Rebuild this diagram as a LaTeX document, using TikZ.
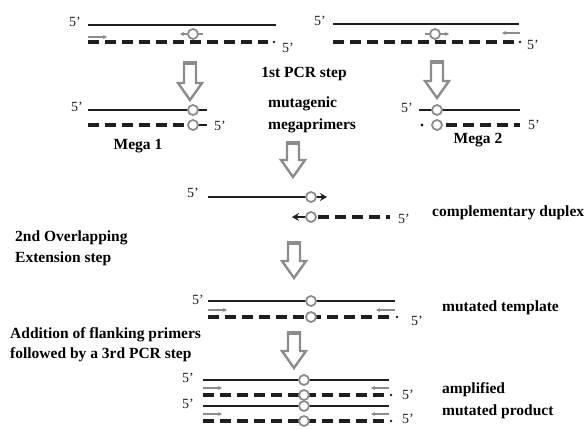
\documentclass[tikz,border=0pt]{standalone}
\usepackage{fontspec}
\setmainfont{Liberation Serif}
\usetikzlibrary{arrows.meta}
\definecolor{strand}{HTML}{1E1E1E}
\definecolor{site}{HTML}{8C8C8C}
\def\hollowarrow(#1,#2,#3){\draw[site,line width=2.4pt,fill=white,line join=miter] (#1-6,#2) -- (#1+6,#2) -- (#1+6,#3-17) -- (#1+12,#3-17) -- (#1,#3) -- (#1-12,#3-17) -- (#1-6,#3-17) -- cycle; \draw[site,line width=3.8pt] (#1-7,#2) -- (#1+7,#2);}
\def\mutsite(#1,#2){\draw[site,line width=1.8pt,fill=white] (#1,#2) circle (5pt);}
\tikzset{
	solidstrand/.style={strand,line width=2.6pt},
	dashstrand/.style={strand,line width=3.2pt,dash pattern=on 11pt off 6pt},
	primer/.style={site,line width=1.5pt,-{Stealth[length=4pt,width=4pt]}},
	lbl/.style={font=\fontsize{15.5}{18}\selectfont\bfseries,inner sep=0pt},
	five/.style={font=\fontsize{14}{16}\selectfont,inner sep=0pt,text=strand}
}

\begin{document}
\begin{tikzpicture}[x=1pt,y=-1pt]
			%%%%% START %%%%%
			\useasboundingbox (0,0) rectangle (588,428);
			
			% first PCR, left
			\node[five] (tlA) at (75,22) {5'};
			\draw[solidstrand] (88,25) -- (276,25);
			\draw[primer] (88,37) -- (107,37);
			\draw[primer] (203,34) -- (180,34);
			\mutsite(193,34)
			\draw[dashstrand] (88,42) -- (268,42);
			\fill[strand] (274,42) circle (1.4pt);
			\node[five] (tlB) at (288,48) {5'};
			
			% first PCR, right
			\node[five] (trA) at (320,21) {5'};
			\draw[solidstrand] (333,24) -- (519,24);
			\draw[primer] (425,34) -- (449,34);
			\mutsite(435,34)
			\draw[primer] (520,33) -- (502,33);
			\draw[dashstrand] (333,42) -- (514,42);
			\fill[strand] (520,42) circle (1.4pt);
			\node[five] (trB) at (533,45) {5'};
			
			\hollowarrow(190,63,100)
			\hollowarrow(437,62,98)
			\node[lbl] (pcr1) at (304,74) {1st PCR step};
			\node[lbl,anchor=west] (mut) at (268,104) {mutagenic};
			\node[lbl,anchor=west] (mega) at (268,126) {megaprimers};
			
			% Mega 1
			\node[five] (m1A) at (77,107) {5'};
			\draw[solidstrand] (88,110) -- (207,110);
			\mutsite(193,110)
			\draw[dashstrand] (88,125) -- (186,125);
			\draw[solidstrand] (193,125) -- (207,125);
			\mutsite(193,125)
			\node[five] (m1B) at (220,126) {5'};
			\node[lbl] (mega1) at (138,146) {Mega 1};
			
			% Mega 2
			\node[five] (m2A) at (407,108) {5'};
			\draw[solidstrand] (419,110) -- (520,110);
			\mutsite(437,110)
			\fill[strand] (422,125) circle (1.6pt);
			\draw[dashstrand] (446,125) -- (520,125);
			\mutsite(437,125)
			\node[five] (m2B) at (534,125) {5'};
			\node[lbl] (mega2) at (478,140) {Mega 2};
			
			\hollowarrow(293,143,177)
			
			% duplex of the megaprimers
			\node[five] (cdA) at (193,193) {5'};
			\draw[solidstrand,-{Stealth[length=7pt,width=8pt]}] (208,197) -- (327,197);
			\mutsite(311,197)
			\draw[strand,line width=2.4pt,-{Stealth[length=7pt,width=8pt]}] (308,217) -- (292,217);
			\draw[dashstrand] (318,217) -- (390,217);
			\mutsite(311,217)
			\node[five] (cdB) at (404,219) {5'};
			\node[lbl,anchor=west] (cdup) at (432,213) {complementary duplex};
			
			\node[lbl,anchor=west] (ovl1) at (15,238) {2nd Overlapping};
			\node[lbl,anchor=west] (ovl2) at (15,259) {Extension step};
			
			\hollowarrow(294,243,278)
			
			% mutated template
			\node[five] (mtA) at (198,300) {5'};
			\draw[solidstrand] (208,301) -- (395,301);
			\mutsite(311,301)
			\draw[primer] (208,310) -- (227,310);
			\draw[primer] (395,310) -- (376,310);
			\draw[dashstrand] (208,317) -- (391,317);
			\fill[strand] (397,317) circle (1.4pt);
			\mutsite(311,317)
			\node[five] (mtB) at (417,321) {5'};
			\node[lbl,anchor=west] (mtt) at (442,308) {mutated template};
			
			\node[lbl,anchor=west] (add1) at (10,335) {Addition of flanking primers};
			\node[lbl,anchor=west] (add2) at (10,355) {followed by a 3rd PCR step};
			
			\hollowarrow(294,333,368)
			
			% amplified product
			\foreach \yy/\nm in {0/a,26/b}{
				\draw[solidstrand] (203,380+\yy) -- (389,380+\yy);
				\draw[primer] (203,388+\yy) -- (222,388+\yy);
				\draw[primer] (389,388+\yy) -- (371,388+\yy);
				\draw[dashstrand] (203,395+\yy) -- (385,395+\yy);
				\fill[strand] (391,395+\yy) circle (1.4pt);
				\node[five] (apS\nm) at (188,378+\yy) {5'};
			}
			\node[five] (apDa) at (408,395) {5'};
			\node[five] (apDb) at (408,419) {5'};
			\mutsite(304,380)
			\mutsite(304,395)
			\mutsite(304,406)
			\mutsite(304,421)
			\node[lbl,anchor=west] (amp1) at (442,390) {amplified};
			\node[lbl,anchor=west] (amp2) at (442,412) {mutated product};
			%%%%% END %%%%%
\end{tikzpicture}
\end{document}
